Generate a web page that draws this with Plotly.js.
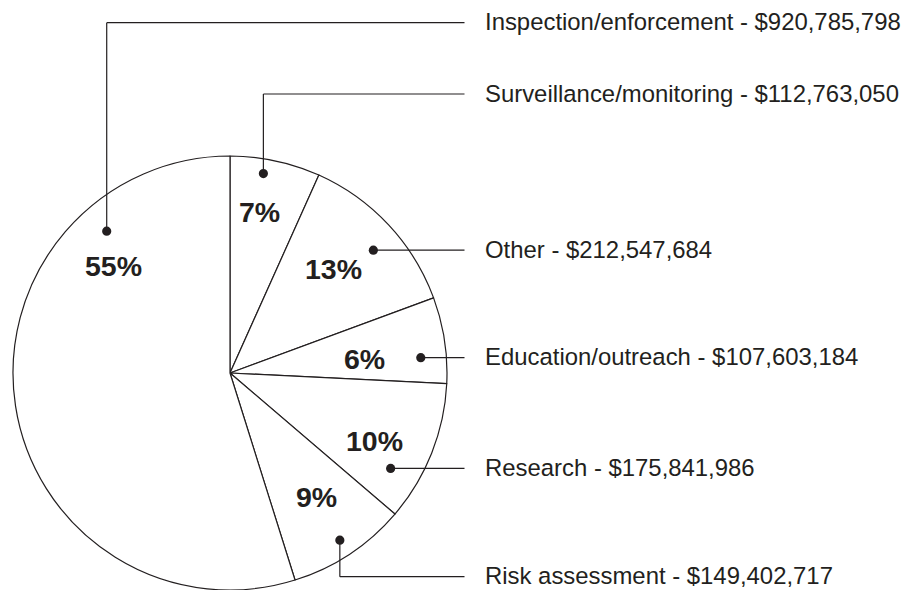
<!DOCTYPE html>
<html>
<head>
<meta charset="utf-8">
<script src="https://cdn.plot.ly/plotly-3.0.1.min.js"></script>
<style>
  html, body { margin: 0; padding: 0; background: #ffffff; overflow: hidden; }
  #chart { width: 905px; height: 590px; }
</style>
</head>
<body>
<div id="chart"></div>
<script>
// ---- Data (slice order, clockwise from 12 o'clock) ----
const categories = [
  'Surveillance/monitoring',
  'Other',
  'Education/outreach',
  'Research',
  'Risk assessment',
  'Inspection/enforcement'
];
const budgets = [112763050, 212547684, 107603184, 175841986, 149402717, 920785798];

// ---- Label placement (polar, relative to pie: [degrees clockwise from top, fraction of radius]) ----
const dotPolar = [[9.5, 0.932], [49.4, 0.870], [85.4, 0.882], [120.7, 0.861], [146.7, 0.922], [319.0, 0.866]];
const pctPolar = [[10.5, 0.756], [44.9, 0.674], [84.2, 0.621], [115.2, 0.738], [145.0, 0.696], [312.4, 0.730]];
const rowY = [94, null, null, null, 576.7, 22.7];   // elbow row (px) or null = straight leader

// ---- Geometry ----
const W = 905, H = 590;
const pieLeft = 13, pieRight = 447, pieTop = 156, pieBottom = 590;
const cx = (pieLeft + pieRight) / 2, cy = (pieTop + pieBottom) / 2, R = (pieBottom - pieTop) / 2;
const leaderEndX = 464.5, labelX = 483;
const ink = '#231f20';

const X = px => px / W;
const Y = py => 1 - py / H;
const polar = (deg, frac) => {
  const a = deg * Math.PI / 180;
  return [cx + frac * R * Math.sin(a), cy - frac * R * Math.cos(a)];
};

const total = budgets.reduce((s, v) => s + v, 0);

const shapes = [];
const annotations = [];
categories.forEach((name, i) => {
  const [dx, dy] = polar(dotPolar[i][0], dotPolar[i][1]);
  const ry = rowY[i] === null ? dy : rowY[i];
  if (rowY[i] !== null) {
    shapes.push({type: 'line', xref: 'paper', yref: 'paper',
      x0: X(dx), y0: Y(dy), x1: X(dx), y1: Y(ry), line: {color: ink, width: 1.2}});
  }
  shapes.push({type: 'line', xref: 'paper', yref: 'paper',
    x0: X(dx), y0: Y(ry), x1: X(leaderEndX), y1: Y(ry), line: {color: ink, width: 1.2}});
  const dr = 4.6;
  shapes.push({type: 'circle', xref: 'paper', yref: 'paper',
    x0: X(dx - dr), x1: X(dx + dr), y0: Y(dy - dr), y1: Y(dy + dr),
    fillcolor: ink, line: {color: ink, width: 0}});

  annotations.push({xref: 'paper', yref: 'paper', x: X(labelX), y: Y(ry - 1),
    xanchor: 'left', yanchor: 'middle', showarrow: false,
    text: name + ' - $' + budgets[i].toLocaleString('en-US'),
    font: {family: 'Liberation Sans, Arial, Helvetica, sans-serif', size: 23.9, color: ink}});

  const [tx, ty] = polar(pctPolar[i][0], pctPolar[i][1]);
  annotations.push({xref: 'paper', yref: 'paper', x: X(tx), y: Y(ty),
    xanchor: 'center', yanchor: 'middle', showarrow: false,
    text: '<b>' + Math.round(budgets[i] / total * 100) + '%</b>',
    font: {family: 'Liberation Sans, Arial, Helvetica, sans-serif', size: 28.5, color: ink}});
});

const trace = {
  type: 'pie',
  labels: categories,
  values: budgets,
  sort: false,
  direction: 'clockwise',
  rotation: 0,
  textinfo: 'none',
  hoverinfo: 'none',
  marker: {colors: categories.map(() => '#ffffff'), line: {color: ink, width: 1.2}},
  domain: {x: [X(pieLeft), X(pieRight)], y: [Y(pieBottom), Y(pieTop)]},
  showlegend: false
};

const layout = {
  width: W, height: H,
  margin: {l: 0, r: 0, t: 0, b: 0, pad: 0},
  paper_bgcolor: '#ffffff',
  plot_bgcolor: '#ffffff',
  showlegend: false,
  shapes: shapes,
  annotations: annotations
};

Plotly.newPlot('chart', [trace], layout, {displayModeBar: false, staticPlot: true});
</script>
</body>
</html>
